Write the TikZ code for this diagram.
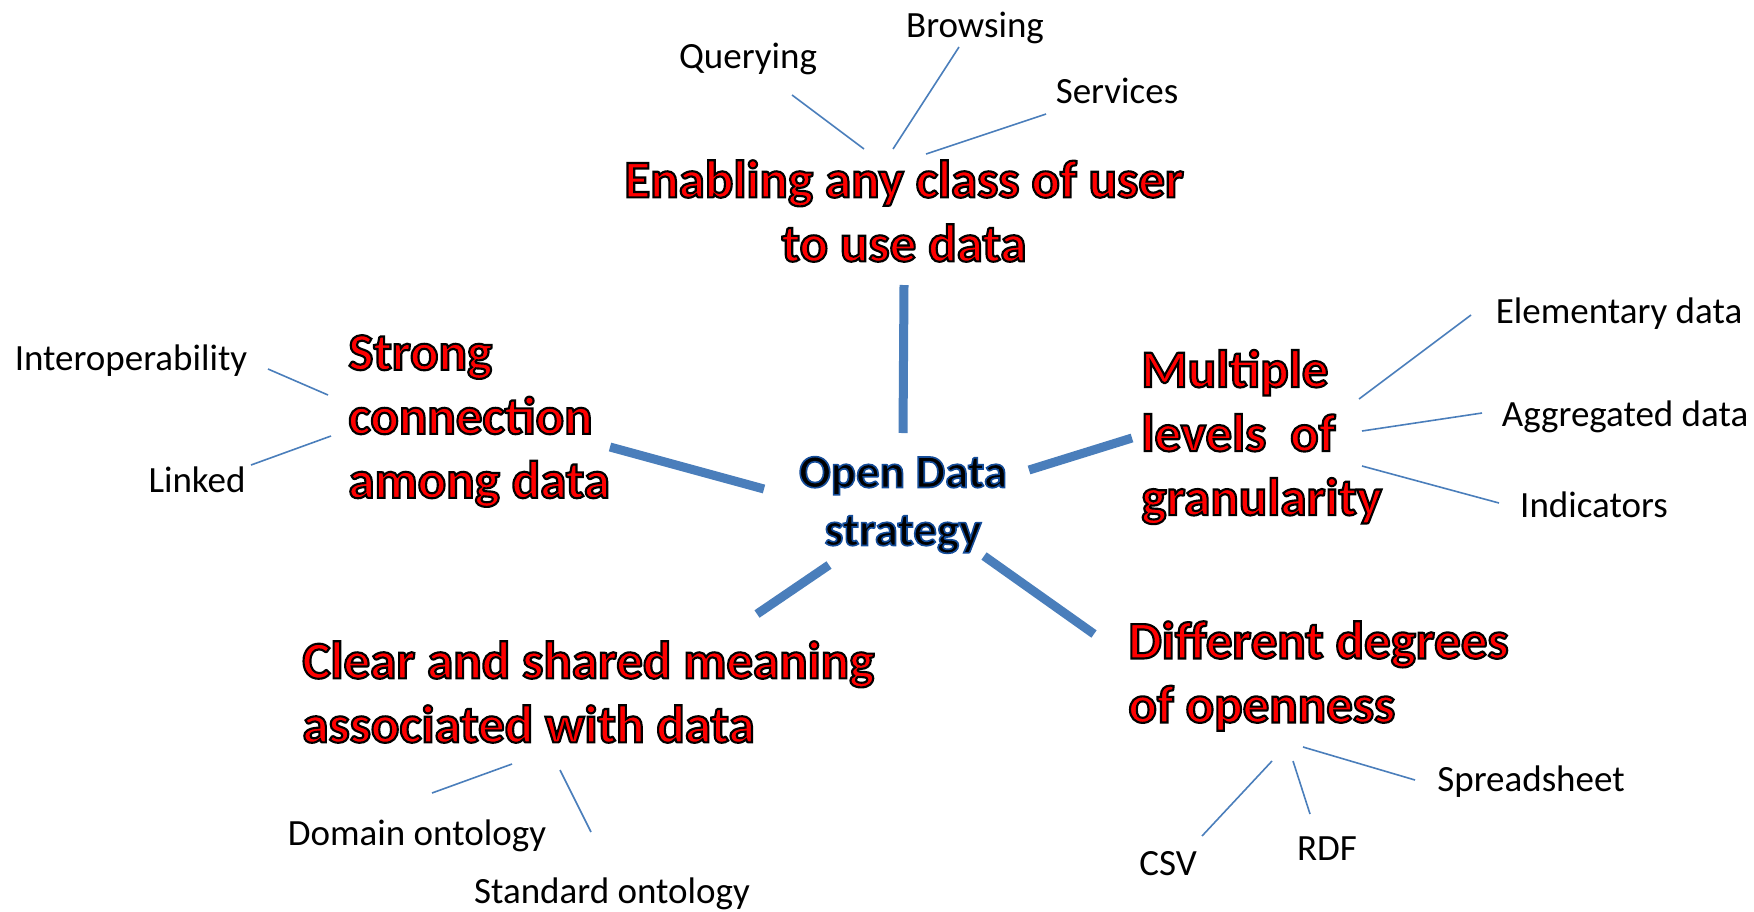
\documentclass[tikz,border=0pt]{standalone}
\usepackage{fontspec}
\setmainfont{Carlito}
\definecolor{spokeblue}{HTML}{4A7EBB}
\definecolor{hubrim}{HTML}{1F4E8C}
\newcommand{\redtxt}[1]{{\addfontfeature{FakeBold=4}\special{pdf:literal direct 0 0 0 RG}#1}}
\newcommand{\hubtxt}[1]{{\addfontfeature{FakeBold=3.5}\special{pdf:literal direct 0.08 0.3 0.6 RG}#1}}
\tikzset{
	goal/.style={text=red, font=\fontsize{26.5}{32}\selectfont\bfseries, align=left, inner sep=0pt},
	leaf/.style={font=\fontsize{18.5}{22}\selectfont, inner sep=0pt},
	hub/.style={font=\fontsize{23.5}{29}\selectfont\bfseries, align=center, inner sep=0pt},
	spoke/.style={spokeblue, line width=4.5pt},
	twig/.style={spokeblue, line width=0.8pt},
}

\begin{document}
\begin{tikzpicture}[x=0.5pt, y=-0.5pt]
			%%%%% START %%%%%
			\useasboundingbox (0,0) rectangle (1754,911);
			
			\node[hub] (strategy) at (903,505) {\hubtxt{Open Data}\\ \hubtxt{strategy}};
			
			\node[goal, align=center] (use) at (904,211) {\redtxt{Enabling any class of user}\\ \redtxt{to use data}};
			\node[goal, anchor=west] (link) at (348,421) {\redtxt{Strong}\\ \redtxt{connection}\\ \redtxt{among data}};
			\node[goal, anchor=west] (gran) at (1141,437) {\redtxt{Multiple}\\ \redtxt{levels\ \ of}\\ \redtxt{granularity}};
			\node[goal, anchor=west] (mean) at (302,692) {\redtxt{Clear and shared meaning}\\ \redtxt{associated with data}};
			\node[goal, anchor=west] (open) at (1128,676) {\redtxt{Different degrees}\\ \redtxt{of openness}};
			
			\node[leaf] (query) at (748,59) {Querying};
			\node[leaf] (browse) at (975,28) {Browsing};
			\node[leaf] (serv) at (1117,91) {Services};
			\node[leaf] (interop) at (131,361) {Interoperability};
			\node[leaf] (linked) at (197,480) {Linked};
			\node[leaf] (elem) at (1619,314) {Elementary data};
			\node[leaf] (aggr) at (1625,417) {Aggregated data};
			\node[leaf] (indic) at (1594,505) {Indicators};
			\node[leaf] (domain) at (417,836) {Domain ontology};
			\node[leaf] (standard) at (612,894) {Standard ontology};
			\node[leaf] (sheet) at (1531,782) {Spreadsheet};
			\node[leaf] (csv) at (1168,864) {CSV};
			\node[leaf] (rdf) at (1327,849) {RDF};
			
			% thick spokes
			\coordinate (hubN) at (903,433); \coordinate (useS) at (904,285);
			\coordinate (hubW) at (764,489); \coordinate (linkE) at (610,447);
			\coordinate (hubE) at (1029,470); \coordinate (granW) at (1132,438);
			\coordinate (hubSW) at (829,565); \coordinate (meanNE) at (757,614);
			\coordinate (hubSE) at (984,556); \coordinate (openNW) at (1094,634);
			\draw[spoke] (hubN) -- (useS);
			\draw[spoke] (hubW) -- (linkE);
			\draw[spoke] (hubE) -- (granW);
			\draw[spoke] (hubSW) -- (meanNE);
			\draw[spoke] (hubSE) -- (openNW);
			
			% thin twigs
			\coordinate (useQ) at (864,149); \coordinate (queryS) at (792,95);
			\coordinate (useB) at (893,149); \coordinate (browseS) at (959,47);
			\coordinate (useR) at (926,154); \coordinate (servS) at (1046,114);
			\draw[twig] (useQ) -- (queryS);
			\draw[twig] (useB) -- (browseS);
			\draw[twig] (useR) -- (servS);
			
			\coordinate (linkI) at (328,395); \coordinate (interopE) at (268,369);
			\coordinate (linkL) at (331,436); \coordinate (linkedE) at (251,465);
			\draw[twig] (linkI) -- (interopE);
			\draw[twig] (linkL) -- (linkedE);
			
			\coordinate (granE) at (1359,399); \coordinate (elemW) at (1471,315);
			\coordinate (granA) at (1362,431); \coordinate (aggrW) at (1482,413);
			\coordinate (granI) at (1362,466); \coordinate (indicW) at (1499,503);
			\draw[twig] (granE) -- (elemW);
			\draw[twig] (granA) -- (aggrW);
			\draw[twig] (granI) -- (indicW);
			
			\coordinate (meanD) at (512,764); \coordinate (domainN) at (432,793);
			\coordinate (meanS) at (560,770); \coordinate (standardN) at (591,832);
			\draw[twig] (meanD) -- (domainN);
			\draw[twig] (meanS) -- (standardN);
			
			\coordinate (openS) at (1303,747); \coordinate (sheetW) at (1415,780);
			\coordinate (openC) at (1272,761); \coordinate (csvN) at (1202,836);
			\coordinate (openR) at (1293,761); \coordinate (rdfN) at (1310,814);
			\draw[twig] (openS) -- (sheetW);
			\draw[twig] (openC) -- (csvN);
			\draw[twig] (openR) -- (rdfN);
			
			%%%%% END %%%%%
\end{tikzpicture}
\end{document}
